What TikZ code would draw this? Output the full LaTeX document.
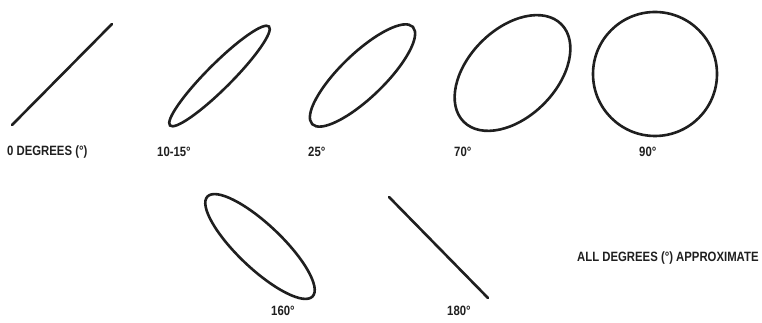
\documentclass[tikz,border=0pt]{standalone}
\usepackage{fontspec}
\newfontfamily\lbl{Liberation Sans Bold}[FakeStretch=0.84]
\begin{document}
\begin{tikzpicture}[x=1pt,y=1pt,
  trace/.style={line width=2.6pt,draw=black!88,line cap=round},
  lab/.style={font=\lbl\fontsize{13.5}{14}\selectfont,text=black!88,inner sep=0pt,anchor=west}]
\useasboundingbox (0,0) rectangle (762,323);
% top row
\coordinate (l0a) at (12,198);
\coordinate (l0b) at (112,299);
\draw[trace] (l0a) -- (l0b);
\coordinate (e1) at (219.5,247);
\draw[trace,rotate around={45:(e1)}] (e1) ellipse (70 and 12.5);
\coordinate (e2) at (362.5,247.5);
\draw[trace,rotate around={44:(e2)}] (e2) ellipse (70 and 22);
\coordinate (e3) at (512.5,250);
\draw[trace,rotate around={45:(e3)}] (e3) ellipse (69 and 44);
\coordinate (c4) at (655,249);
\draw[trace] (c4) circle (62);
% bottom row
\coordinate (e5) at (260,76.5);
\draw[trace,rotate around={-43.5:(e5)}] (e5) ellipse (72.5 and 22);
\coordinate (l6a) at (389,126);
\coordinate (l6b) at (488,25);
\draw[trace] (l6a) -- (l6b);
% labels
\node[lab] (t0) at (7,171) {0 DEGREES (°)};
\node[lab] (t1) at (157,171) {10-15°};
\node[lab] (t2) at (308,171) {25°};
\node[lab] (t3) at (454,171) {70°};
\node[lab] (t4) at (639,171) {90°};
\node[lab] (t5) at (271,12) {160°};
\node[lab] (t6) at (447,12) {180°};
\node[lab] (t7) at (577,65) {ALL DEGREES (°) APPROXIMATE};
\end{tikzpicture}
\end{document}
